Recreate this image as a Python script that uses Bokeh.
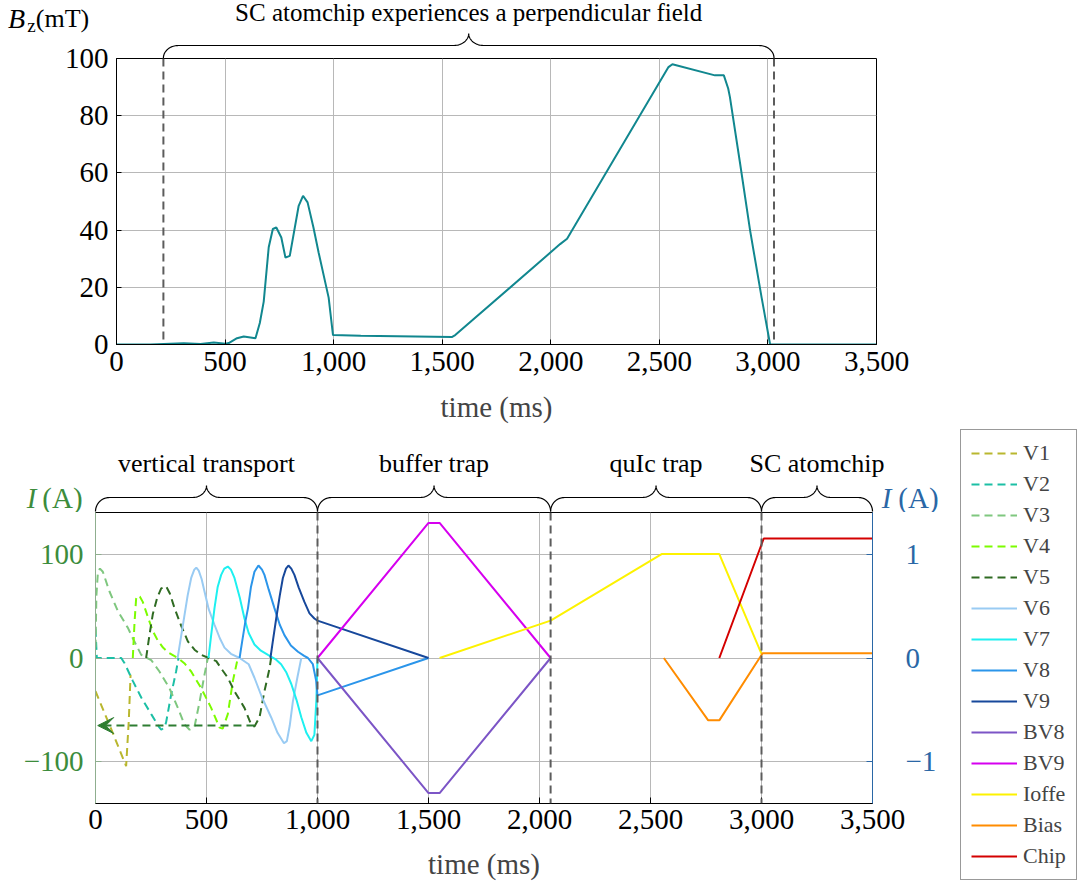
import numpy as np
from bokeh.plotting import figure
from bokeh.layouts import row, column
from bokeh.models import (Range1d, LinearAxis, FixedTicker, Span, Label, Arrow, VeeHead,
                          Legend, LegendItem, NumeralTickFormatter)
from bokeh.embed import file_html
from bokeh.resources import INLINE

FONT = "Liberation Serif"

# ---------------- data ----------------
# top panel: perpendicular field at the SC atomchip
top_t = [0, 156, 310, 387, 448, 502, 517, 555, 586, 640, 660, 678, 701, 720, 736, 759, 778, 798,
         839, 859, 880, 907, 931, 977, 997, 1125, 1544, 1560, 2043, 2075, 2542, 2560, 2756, 2797,
         2817, 2825, 2872, 2918, 2971, 3010, 3500]
top_b = [0, 0, 0.4, 0.2, 0.7, 0.3, 0.5, 2.2, 2.8, 2.2, 7.5, 15, 34, 40.4, 40.9, 37.4, 30.4, 31,
         48.5, 52, 49.7, 40.9, 32.1, 16.4, 3.3, 3.1, 2.6, 3.3, 35.1, 37, 97, 98, 94.1, 94.1,
         89.5, 86.5, 63.2, 39.8, 16.4, 0, 0]
field_window = [216, 3028]
field_window_text = "SC atomchip experiences a perpendicular field"
top_xticks = [0, 500, 1000, 1500, 2000, 2500, 3000, 3500]
top_yticks = [0, 20, 40, 60, 80, 100]

# bottom panel: coil currents (left axis, A)
V1_t = [0, 70, 138, 150, 158]
V1_i = [-32, -68, -104, -60, -16]
V2_t = [0, 6, 60, 116, 131, 168, 206, 251, 285, 296, 310, 318, 341, 363, 374]
V2_i = [28, 0, 0, 0, -5, -22, -38, -54, -66, -69, -67, -62, -35, -13, 0]
V3_t = [0, 4, 11, 20, 33, 63, 101, 146, 168, 206, 251, 288, 333, 371, 401, 424, 446, 469, 491, 506]
V3_i = [10, 60, 83, 86, 83, 64, 45, 29, 19, 3, -2, -13, -29, -48, -64, -69, -66, -42, -16, 0]
V4_t = [168, 176, 183, 190, 200, 213, 235, 258, 280, 304, 330, 371, 400, 431, 476, 521, 559,
        573, 596, 619, 641]
V4_i = [0, 35, 57, 60, 59, 54, 40, 26, 17, 10, 5, 0, -5, -13, -29, -48, -67, -68, -54, -22, 0]
V5_t = [228, 243, 258, 278, 296, 318, 335, 356, 386, 416, 446, 476, 510, 544, 566, 596, 626,
        671, 701, 716, 739, 761, 784, 791]
V5_i = [0, 22, 42, 58, 67, 69, 62, 48, 31, 16, 8, 3, 0, -3, -10, -19, -32, -48, -64, -66, -57,
        -32, -10, 0]
V5_return_t = [716, 10]
V5_return_i = [-65, -65]
V6_t = [370, 385, 400, 415, 431, 445, 454, 465, 478, 491, 510, 536, 560, 581, 610, 649, 690,
        716, 750, 791, 820, 849, 862, 875, 889, 910, 927]
V6_i = [0, 20, 40, 60, 77, 85, 87, 84, 76, 64, 47, 32, 19, 10, 4, 0, -6, -19, -38, -57, -72,
        -82, -80, -65, -42, -18, 0]
V7_t = [509, 520, 536, 550, 566, 580, 596, 610, 626, 650, 671, 690, 716, 745, 777, 810, 836,
        860, 882, 905, 927, 950, 972, 986, 995, 1000]
V7_i = [0, 20, 48, 68, 80, 86, 88, 85, 77, 58, 38, 24, 13, 7, 3, -1, -6, -14, -25, -40, -57,
        -72, -80, -74, -40, 0]
V8_t = [649, 660, 675, 687, 700, 716, 734, 750, 761, 780, 806, 830, 851, 880, 912, 940, 957,
        979, 994, 1000, 1500]
V8_i = [0, 15, 35, 48, 68, 83, 89, 85, 80, 66, 48, 32, 22, 12, 6, 2, 0, -6, -22, -36, 0]
V9_t = [788, 800, 814, 830, 844, 858, 869, 882, 896, 915, 941, 964, 986, 1000, 1500]
V9_i = [0, 18, 38, 60, 77, 86, 89, 86, 80, 68, 54, 43, 38, 36, 0]
BV8_t = [1000, 1500, 1550, 2050]
BV8_i = [0, -130, -130, 0]
BV9_t = [1000, 1500, 1550, 2050]
BV9_i = [0, 130, 130, 0]
Ioffe_t = [1550, 2050, 2550, 2810, 3000]
Ioffe_i = [0, 36, 100, 100, 4]
# right axis (A)
Bias_t = [2560, 2760, 2810, 3005, 3500]
Bias_i = [0, -0.6, -0.6, 0.045, 0.045]
Chip_t = [2810, 3010, 3500]
Chip_i = [0, 1.15, 1.15]

stage_edges = [0, 1000, 2050, 3000, 3500]
stage_names = ["vertical transport", "buffer trap", "quIc trap", "SC atomchip"]
bot_xticks = [0, 500, 1000, 1500, 2000, 2500, 3000, 3500]
left_yticks = [-100, 0, 100]
right_yticks = [-1, 0, 1]

series = [
    ("V1", V1_t, V1_i, "#b9b72f", "8 5", "left"),
    ("V2", V2_t, V2_i, "#1cbfa5", "8 5", "left"),
    ("V3", V3_t, V3_i, "#7fc77f", "8 5", "left"),
    ("V4", V4_t, V4_i, "#7cfc00", "8 5", "left"),
    ("V5", V5_t, V5_i, "#2f6b22", "8 5", "left"),
    ("V6", V6_t, V6_i, "#99cbf3", "solid", "left"),
    ("V7", V7_t, V7_i, "#1ef0f0", "solid", "left"),
    ("V8", V8_t, V8_i, "#2b95ea", "solid", "left"),
    ("V9", V9_t, V9_i, "#17489b", "solid", "left"),
    ("BV8", BV8_t, BV8_i, "#7c55c6", "solid", "left"),
    ("BV9", BV9_t, BV9_i, "#d600ef", "solid", "left"),
    ("Ioffe", Ioffe_t, Ioffe_i, "#fdf200", "solid", "left"),
    ("Bias", Bias_t, Bias_i, "#ff8c00", "solid", "right"),
    ("Chip", Chip_t, Chip_i, "#d40000", "solid", "right"),
]

# ---------------- styling / layout constants ----------------
TEAL = "#11878f"
GRID = "#b8b8b8"
VLINE = "#5c5c5c"
GREEN_AX = "#3c8c3c"
BLUE_AX = "#2a67a6"
ARROW_GREEN = "#2e7d32"
TICK_PX = "29px"
LABEL_PX = "29px"

COL_W = 948
LEG_W = 133
TOP_BRACE_H = 58
OVERLAP = 16          # the top plot's own top border slides under the brace band
TOP_H = 440 - (TOP_BRACE_H - OVERLAP)
BOT_BRACE_H = 72
BOT_H = 376
P1_LEFT, P1_FW, P1_FH = 116, 760, 286
P2_LEFT, P2_FW, P2_FH = 95, 777, 291
S1 = P1_FW / 3500.0
S2 = P2_FW / 3500.0


def new_fig(**kw):
    f = figure(output_backend="svg", toolbar_location=None, **kw)
    try:
        f.frame_align = False
    except Exception:
        pass
    return f


def brace_xy(t1, t2, base, bar, tip, r_t, n=24):
    th = np.linspace(0, np.pi / 2, n)
    mid = (t1 + t2) / 2.0
    h1 = bar - base
    h2 = tip - bar
    xs = list(t1 + r_t * (1 - np.cos(th)))
    ys = list(base + h1 * np.sin(th))
    xs += list(mid - r_t + r_t * np.sin(th))
    ys += list(bar + h2 * (1 - np.cos(th)))
    xs += list(mid + r_t * (1 - np.cos(th)))
    ys += list(tip - h2 * np.sin(th))
    xs += list(t2 - r_t + r_t * np.sin(th))
    ys += list(base + h1 * np.cos(th))
    return xs, ys


def blank(fig):
    fig.grid.visible = False
    fig.outline_line_color = None
    fig.background_fill_color = "white"
    fig.border_fill_color = "white"


# ---------------- top brace band ----------------
b1 = new_fig(width=COL_W, height=TOP_BRACE_H,
             x_range=Range1d(-P1_LEFT / S1, (COL_W - P1_LEFT) / S1),
             y_range=Range1d(0, TOP_BRACE_H), min_border=0, x_axis_type=None, y_axis_type=None,
             margin=(0, 0, -OVERLAP, 0))
blank(b1)


def pxt1(page_x):
    return (page_x - P1_LEFT) / S1


bx, by = brace_xy(field_window[0], field_window[1], 0.5, 13, 25, 15 / S1)
b1.line(bx, by, line_color="black", line_width=1.2)
b1.add_layout(Label(x=(field_window[0] + field_window[1]) / 2, y=46, text=field_window_text,
                    text_align="center", text_baseline="middle", text_font=FONT,
                    text_font_size="25px", text_color="black"))
b1.add_layout(Label(x=pxt1(16), y=40, text="B", text_align="center",
                    text_baseline="middle", text_font=FONT, text_font_style="italic",
                    text_font_size="28px", text_color="black"))
b1.add_layout(Label(x=pxt1(31), y=33, text="z", text_align="center",
                    text_baseline="middle", text_font=FONT,
                    text_font_size="19px", text_color="black"))
b1.add_layout(Label(x=pxt1(62), y=40, text="(mT)", text_align="center",
                    text_baseline="middle", text_font=FONT,
                    text_font_size="26px", text_color="black"))

# ---------------- top plot ----------------
p1 = new_fig(width=COL_W, height=TOP_H, x_range=Range1d(0, 3500), y_range=Range1d(0, 100),
             min_border_left=P1_LEFT, min_border_right=COL_W - P1_LEFT - P1_FW,
             min_border_top=OVERLAP, min_border_bottom=TOP_H - OVERLAP - P1_FH)
p1.border_fill_color = None
p1.border_fill_alpha = 0
p1.line(top_t, top_b, line_color=TEAL, line_width=2)
for loc in field_window:
    p1.add_layout(Span(location=loc, dimension="height", line_color=VLINE, line_width=2,
                       line_dash="8 5"))
p1.outline_line_color = "black"
p1.outline_line_width = 1
p1.xaxis.ticker = FixedTicker(ticks=top_xticks)
p1.yaxis.ticker = FixedTicker(ticks=top_yticks)
p1.xgrid.ticker = FixedTicker(ticks=top_xticks)
p1.ygrid.ticker = FixedTicker(ticks=top_yticks)
p1.xaxis.formatter = NumeralTickFormatter(format="0,0")
p1.grid.grid_line_color = GRID
p1.grid.grid_line_width = 1
for ax in [p1.xaxis[0], p1.yaxis[0]]:
    ax.major_label_text_font = FONT
    ax.major_label_text_font_size = TICK_PX
    ax.major_label_text_color = "black"
    ax.axis_line_color = "black"
    ax.major_tick_in = 5
    ax.major_tick_out = 0
    ax.minor_tick_line_color = None
    ax.major_tick_line_color = "black"
p1.yaxis.major_label_standoff = 8
p1.xaxis.major_label_standoff = 7
p1.xaxis.axis_label = "time (ms)"
p1.xaxis.axis_label_text_font = FONT
p1.xaxis.axis_label_text_font_style = "normal"
p1.xaxis.axis_label_text_font_size = LABEL_PX
p1.xaxis.axis_label_standoff = 17

# ---------------- bottom brace band ----------------
b2 = new_fig(width=COL_W, height=BOT_BRACE_H,
             x_range=Range1d(-P2_LEFT / S2, (COL_W - P2_LEFT) / S2),
             y_range=Range1d(0, BOT_BRACE_H), min_border=0, x_axis_type=None, y_axis_type=None)
blank(b2)
bxs, bys = [], []
for k, name in enumerate(stage_names):
    t1, t2 = stage_edges[k], stage_edges[k + 1]
    bx, by = brace_xy(t1, t2, 1, 15, 27, 14 / S2)
    bxs.append(bx)
    bys.append(by)
    b2.add_layout(Label(x=(t1 + t2) / 2, y=49, text=name, text_align="center",
                        text_baseline="middle", text_font=FONT, text_font_size="26px",
                        text_color="black"))
b2.multi_line(bxs, bys, line_color="black", line_width=1.2)


def pxt2(page_x):
    return (page_x - P2_LEFT) / S2


for cx_i, cx_a, col in [(31, 62, GREEN_AX), (886, 918, BLUE_AX)]:
    b2.add_layout(Label(x=pxt2(cx_i), y=15, text="I", text_align="center",
                        text_baseline="middle", text_font=FONT, text_font_style="italic",
                        text_font_size="29px", text_color=col))
    b2.add_layout(Label(x=pxt2(cx_a), y=15, text="(A)", text_align="center",
                        text_baseline="middle", text_font=FONT,
                        text_font_size="29px", text_color=col))

# ---------------- bottom plot ----------------
p2 = new_fig(width=COL_W, height=BOT_H, x_range=Range1d(0, 3500), y_range=Range1d(-140, 140),
             min_border_left=P2_LEFT, min_border_right=COL_W - P2_LEFT - P2_FW,
             min_border_top=0, min_border_bottom=BOT_H - P2_FH)
p2.extra_y_ranges = {"right": Range1d(-1.4, 1.4)}
p2.outline_line_color = "black"
p2.outline_line_width = 1
p2.xaxis.ticker = FixedTicker(ticks=bot_xticks)
p2.xgrid.ticker = FixedTicker(ticks=bot_xticks)
p2.yaxis.ticker = FixedTicker(ticks=left_yticks)
p2.ygrid.ticker = FixedTicker(ticks=left_yticks)
p2.xaxis.formatter = NumeralTickFormatter(format="0,0")
p2.yaxis.major_label_overrides = {-100: "\u2212100", 0: "0", 100: "100"}
p2.grid.grid_line_color = GRID
p2.grid.grid_line_width = 1

ax_r = LinearAxis(y_range_name="right", ticker=FixedTicker(ticks=right_yticks),
                  major_label_overrides={-1: "\u22121", 0: "0", 1: "1"})
p2.add_layout(ax_r, "right")

xa = p2.xaxis[0]
ya = p2.yaxis[0]
for ax, col, lcol in [(xa, "black", "black"), (ya, GREEN_AX, "#8fae8f"), (ax_r, BLUE_AX, BLUE_AX)]:
    ax.major_label_text_font = FONT
    ax.major_label_text_font_size = TICK_PX
    ax.major_label_text_color = col
    ax.axis_line_color = lcol
    ax.major_tick_in = 6
    ax.major_tick_out = 0
    ax.minor_tick_line_color = None
    ax.major_tick_line_color = lcol
xa.major_label_standoff = 6
ya.major_label_standoff = 12
ax_r.major_label_standoff = 33
xa.axis_label = "time (ms)"
xa.axis_label_text_font = FONT
xa.axis_label_text_font_style = "normal"
xa.axis_label_text_font_size = LABEL_PX
xa.axis_label_standoff = 16

for loc in stage_edges[1:-1]:
    p2.add_layout(Span(location=loc, dimension="height", line_color=VLINE, line_width=2,
                       line_dash="8 5"))

for name, ts, vals, colr, dash, side in series:
    kw = dict(line_color=colr, line_width=2, line_dash=dash)
    if side == "right":
        kw["y_range_name"] = "right"
    p2.line(ts, vals, **kw)

p2.add_layout(Arrow(end=VeeHead(size=16, line_color=ARROW_GREEN, fill_color=ARROW_GREEN),
                    x_start=V5_return_t[0], y_start=V5_return_i[0],
                    x_end=V5_return_t[1], y_end=V5_return_i[1],
                    line_color=ARROW_GREEN, line_width=2, line_dash="8 5"))

# ---------------- legend column ----------------
LEG_H = TOP_BRACE_H - OVERLAP + TOP_H + BOT_BRACE_H + BOT_H
lf = new_fig(width=LEG_W, height=LEG_H,
             x_range=Range1d(0, 1), y_range=Range1d(0, 1), min_border=0,
             x_axis_type=None, y_axis_type=None)
blank(lf)
items = []
for name, ts, vals, colr, dash, side in series:
    # proxy renderer lying outside the visible range; only its legend sample is seen
    r = lf.line(x=[5, 6], y=[5, 6], line_color=colr, line_width=2, line_dash=dash)
    items.append(LegendItem(label=name, renderers=[r]))
legend = Legend(items=items, location=(12, 8), padding=10, spacing=5, margin=0,
                glyph_width=46, glyph_height=24, label_height=24, label_standoff=6,
                label_text_font=FONT, label_text_font_size="22px",
                border_line_color="#333333", border_line_width=1,
                background_fill_color="white", background_fill_alpha=1.0)
lf.add_layout(legend)

layout = row(column(b1, p1, b2, p2), lf)

open("out.html", "w").write(file_html(layout, INLINE))
